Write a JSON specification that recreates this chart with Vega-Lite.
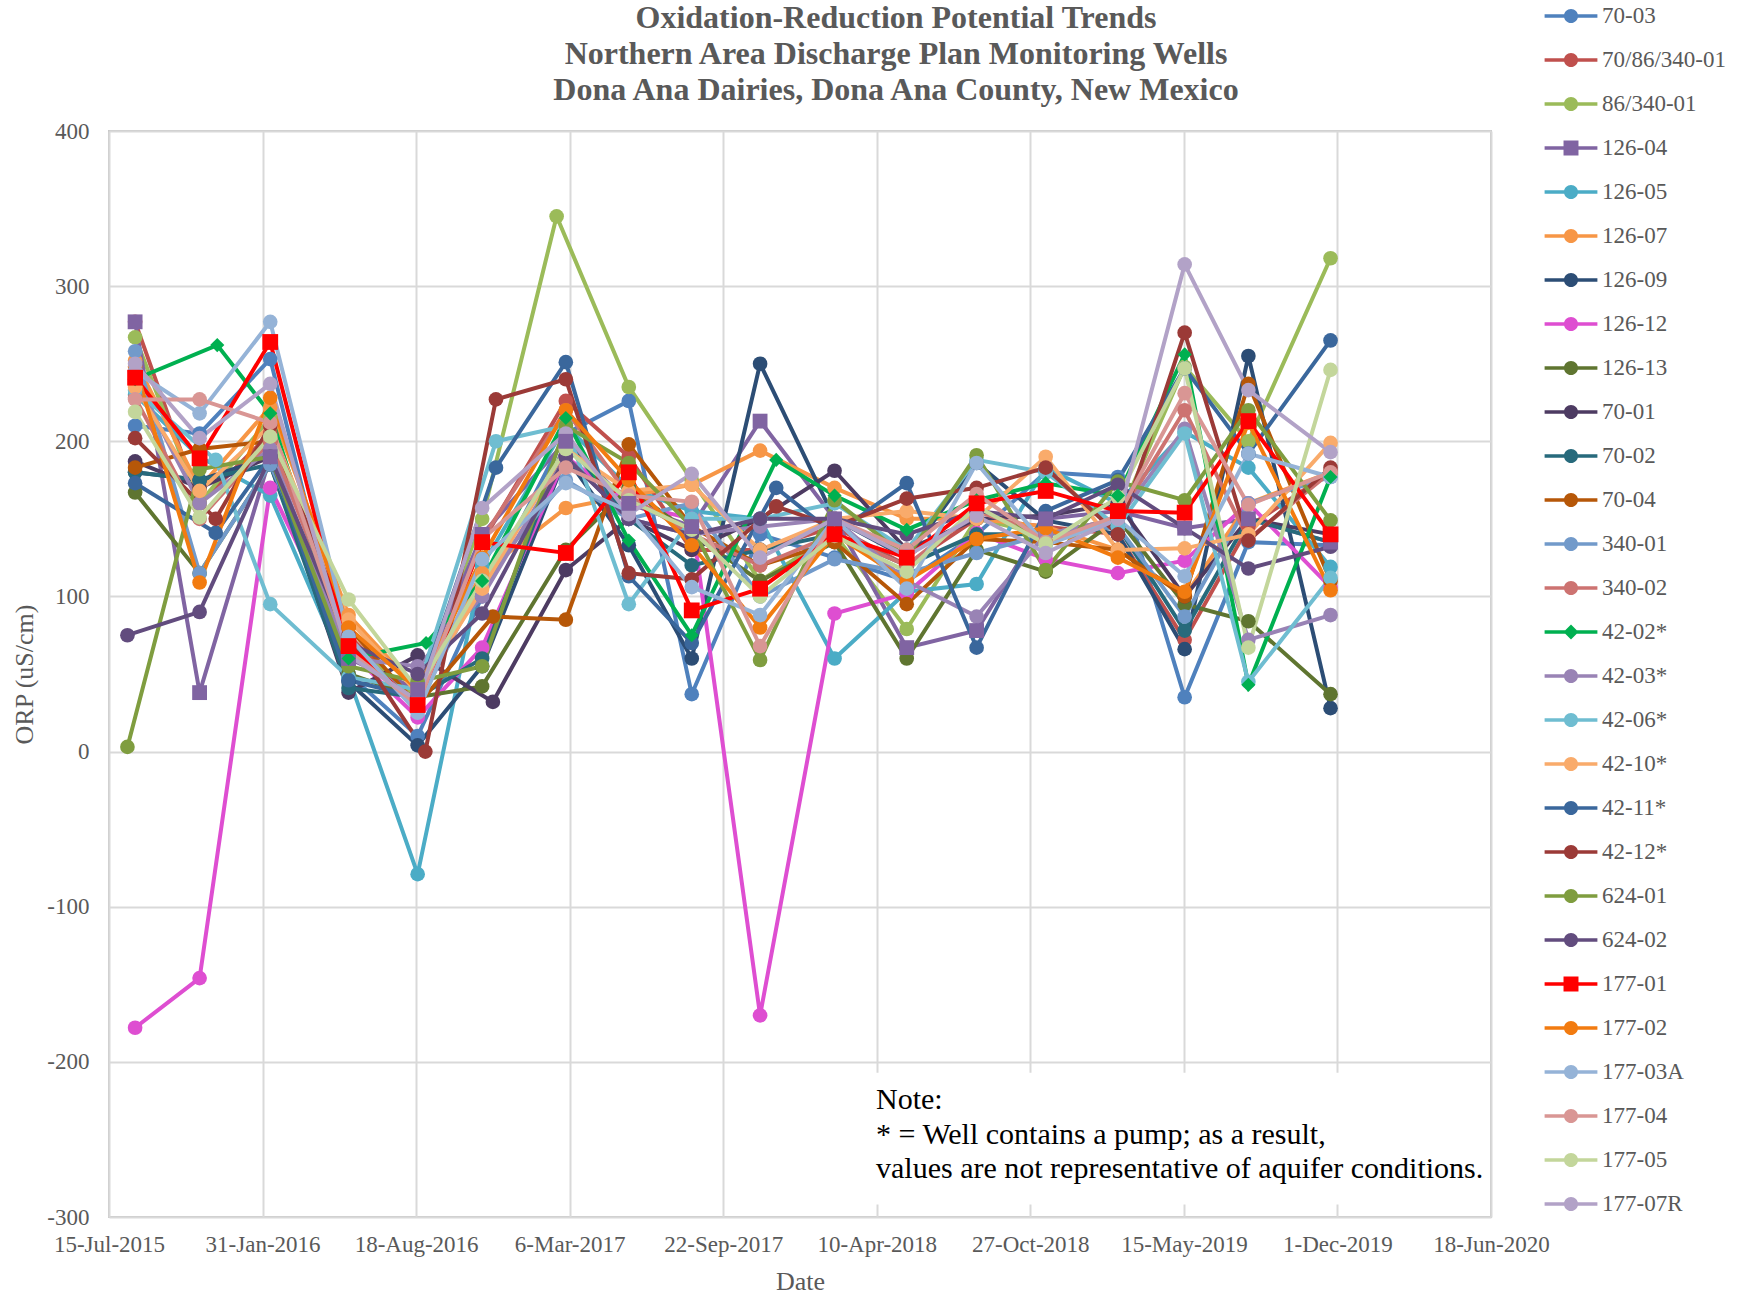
{
"$schema": "https://vega.github.io/schema/vega-lite/v6.json",
"width": 1382, "height": 1086,
"autosize": {"type": "none"},
"padding": {"left": 109, "top": 131, "right": 256, "bottom": 80},
"background": "white",
"config": {
 "font": "Liberation Serif",
 "view": {"stroke": "#C8C8C8", "strokeWidth": 2},
 "axis": {"labelFont": "Liberation Serif", "labelFontSize": 23, "labelColor": "#595959", "titleFont": "Liberation Serif", "titleFontSize": 26, "titleColor": "#595959", "titleFontWeight": "normal", "gridColor": "#D9D9D9", "gridWidth": 2, "domain": false, "ticks": false, "tickSize": 0}
},
"title": {"text": ["Oxidation-Reduction Potential Trends", "Northern Area Discharge Plan Monitoring Wells", "Dona Ana Dairies, Dona Ana County, New Mexico"], "font": "Liberation Serif", "fontSize": 32, "fontWeight": "bold", "color": "#595959", "lineHeight": 36, "anchor": "middle", "frame": "group", "dx": 96, "offset": -113},
"datasets": {"orp": [
{"s":"70-03","d":"2015-08-18","v":210},{"s":"70-03","d":"2015-11-10","v":205},{"s":"70-03","d":"2016-02-10","v":253},{"s":"70-03","d":"2016-05-22","v":50},{"s":"70-03","d":"2016-08-20","v":10},{"s":"70-03","d":"2016-11-12","v":100},{"s":"70-03","d":"2017-03-01","v":205},{"s":"70-03","d":"2017-05-22","v":226},{"s":"70-03","d":"2017-08-12","v":37},{"s":"70-03","d":"2017-11-09","v":140},{"s":"70-03","d":"2018-02-14","v":125},{"s":"70-03","d":"2018-05-19","v":110},{"s":"70-03","d":"2018-08-18","v":140},{"s":"70-03","d":"2018-11-16","v":180},{"s":"70-03","d":"2019-02-18","v":177},{"s":"70-03","d":"2019-05-16","v":35},{"s":"70-03","d":"2019-08-07","v":135},{"s":"70-03","d":"2019-11-22","v":133},
{"s":"70/86/340-01","d":"2015-08-18","v":277},{"s":"70/86/340-01","d":"2015-11-10","v":160},{"s":"70/86/340-01","d":"2016-02-10","v":205},{"s":"70/86/340-01","d":"2016-05-22","v":75},{"s":"70/86/340-01","d":"2016-08-20","v":30},{"s":"70/86/340-01","d":"2016-11-12","v":135},{"s":"70/86/340-01","d":"2017-03-01","v":226},{"s":"70/86/340-01","d":"2017-05-22","v":190},{"s":"70/86/340-01","d":"2017-08-12","v":130},{"s":"70/86/340-01","d":"2017-11-09","v":130},{"s":"70/86/340-01","d":"2018-02-14","v":145},{"s":"70/86/340-01","d":"2018-05-19","v":120},{"s":"70/86/340-01","d":"2018-08-18","v":150},{"s":"70/86/340-01","d":"2018-11-16","v":145},{"s":"70/86/340-01","d":"2019-02-18","v":140},{"s":"70/86/340-01","d":"2019-05-16","v":72},{"s":"70/86/340-01","d":"2019-08-07","v":145},{"s":"70/86/340-01","d":"2019-11-22","v":180},
{"s":"86/340-01","d":"2015-08-18","v":267},{"s":"86/340-01","d":"2015-11-10","v":160},{"s":"86/340-01","d":"2016-02-10","v":215},{"s":"86/340-01","d":"2016-05-22","v":70},{"s":"86/340-01","d":"2016-08-20","v":35},{"s":"86/340-01","d":"2016-11-12","v":150},{"s":"86/340-01","d":"2017-02-17","v":345},{"s":"86/340-01","d":"2017-05-22","v":235},{"s":"86/340-01","d":"2017-08-12","v":175},{"s":"86/340-01","d":"2017-11-09","v":110},{"s":"86/340-01","d":"2018-02-14","v":140},{"s":"86/340-01","d":"2018-05-19","v":79},{"s":"86/340-01","d":"2018-08-18","v":150},{"s":"86/340-01","d":"2018-11-16","v":140},{"s":"86/340-01","d":"2019-02-18","v":150},{"s":"86/340-01","d":"2019-05-16","v":248},{"s":"86/340-01","d":"2019-08-07","v":200},{"s":"86/340-01","d":"2019-11-22","v":318},
{"s":"126-04","d":"2015-08-18","v":277},{"s":"126-04","d":"2015-11-10","v":38},{"s":"126-04","d":"2016-02-10","v":190},{"s":"126-04","d":"2016-05-22","v":60},{"s":"126-04","d":"2016-08-20","v":40},{"s":"126-04","d":"2016-11-12","v":140},{"s":"126-04","d":"2017-03-01","v":200},{"s":"126-04","d":"2017-05-22","v":160},{"s":"126-04","d":"2017-08-12","v":145},{"s":"126-04","d":"2017-11-09","v":213},{"s":"126-04","d":"2018-02-14","v":150},{"s":"126-04","d":"2018-05-19","v":67},{"s":"126-04","d":"2018-08-18","v":78},{"s":"126-04","d":"2018-11-16","v":150},{"s":"126-04","d":"2019-02-18","v":155},{"s":"126-04","d":"2019-05-16","v":144},{"s":"126-04","d":"2019-08-07","v":150},{"s":"126-04","d":"2019-11-22","v":135},
{"s":"126-05","d":"2015-08-18","v":230},{"s":"126-05","d":"2015-11-10","v":190},{"s":"126-05","d":"2016-02-10","v":165},{"s":"126-05","d":"2016-05-22","v":48},{"s":"126-05","d":"2016-08-20","v":-79},{"s":"126-05","d":"2016-11-12","v":120},{"s":"126-05","d":"2017-03-01","v":210},{"s":"126-05","d":"2017-05-22","v":170},{"s":"126-05","d":"2017-08-12","v":155},{"s":"126-05","d":"2017-11-09","v":150},{"s":"126-05","d":"2018-02-14","v":60},{"s":"126-05","d":"2018-05-19","v":103},{"s":"126-05","d":"2018-08-18","v":108},{"s":"126-05","d":"2018-11-16","v":183},{"s":"126-05","d":"2019-02-18","v":160},{"s":"126-05","d":"2019-05-16","v":206},{"s":"126-05","d":"2019-08-07","v":183},{"s":"126-05","d":"2019-11-22","v":119},
{"s":"126-07","d":"2015-08-18","v":252},{"s":"126-07","d":"2015-11-10","v":170},{"s":"126-07","d":"2016-02-10","v":222},{"s":"126-07","d":"2016-05-22","v":88},{"s":"126-07","d":"2016-08-20","v":40},{"s":"126-07","d":"2016-11-12","v":115},{"s":"126-07","d":"2017-03-01","v":157},{"s":"126-07","d":"2017-05-22","v":165},{"s":"126-07","d":"2017-08-12","v":172},{"s":"126-07","d":"2017-11-09","v":194},{"s":"126-07","d":"2018-02-14","v":170},{"s":"126-07","d":"2018-05-19","v":150},{"s":"126-07","d":"2018-08-18","v":150},{"s":"126-07","d":"2018-11-16","v":145},{"s":"126-07","d":"2019-02-18","v":130},{"s":"126-07","d":"2019-05-16","v":100},{"s":"126-07","d":"2019-08-07","v":160},{"s":"126-07","d":"2019-11-22","v":180},
{"s":"126-09","d":"2015-08-18","v":180},{"s":"126-09","d":"2015-11-10","v":175},{"s":"126-09","d":"2016-02-10","v":190},{"s":"126-09","d":"2016-05-22","v":45},{"s":"126-09","d":"2016-08-20","v":4},{"s":"126-09","d":"2016-11-12","v":55},{"s":"126-09","d":"2017-03-01","v":190},{"s":"126-09","d":"2017-05-22","v":133},{"s":"126-09","d":"2017-08-12","v":60},{"s":"126-09","d":"2017-11-09","v":250},{"s":"126-09","d":"2018-02-14","v":150},{"s":"126-09","d":"2018-05-19","v":125},{"s":"126-09","d":"2018-08-18","v":186},{"s":"126-09","d":"2018-11-16","v":149},{"s":"126-09","d":"2019-02-18","v":140},{"s":"126-09","d":"2019-05-16","v":66},{"s":"126-09","d":"2019-08-07","v":255},{"s":"126-09","d":"2019-11-22","v":28},
{"s":"126-12","d":"2015-08-18","v":-178},{"s":"126-12","d":"2015-11-10","v":-146},{"s":"126-12","d":"2016-02-10","v":170},{"s":"126-12","d":"2016-05-22","v":65},{"s":"126-12","d":"2016-08-20","v":22},{"s":"126-12","d":"2016-11-12","v":67},{"s":"126-12","d":"2017-03-01","v":190},{"s":"126-12","d":"2017-05-22","v":160},{"s":"126-12","d":"2017-08-12","v":150},{"s":"126-12","d":"2017-11-09","v":-170},{"s":"126-12","d":"2018-02-14","v":89},{"s":"126-12","d":"2018-05-19","v":102},{"s":"126-12","d":"2018-08-18","v":141},{"s":"126-12","d":"2018-11-16","v":124},{"s":"126-12","d":"2019-02-18","v":115},{"s":"126-12","d":"2019-05-16","v":123},{"s":"126-12","d":"2019-08-07","v":160},{"s":"126-12","d":"2019-11-22","v":106},
{"s":"126-13","d":"2015-08-18","v":167},{"s":"126-13","d":"2015-11-10","v":115},{"s":"126-13","d":"2016-02-10","v":185},{"s":"126-13","d":"2016-05-22","v":50},{"s":"126-13","d":"2016-08-20","v":35},{"s":"126-13","d":"2016-11-12","v":42},{"s":"126-13","d":"2017-03-01","v":130},{"s":"126-13","d":"2017-05-22","v":170},{"s":"126-13","d":"2017-08-12","v":140},{"s":"126-13","d":"2017-11-09","v":110},{"s":"126-13","d":"2018-02-14","v":135},{"s":"126-13","d":"2018-05-19","v":60},{"s":"126-13","d":"2018-08-18","v":130},{"s":"126-13","d":"2018-11-16","v":116},{"s":"126-13","d":"2019-02-18","v":150},{"s":"126-13","d":"2019-05-16","v":95},{"s":"126-13","d":"2019-08-07","v":84},{"s":"126-13","d":"2019-11-22","v":37},
{"s":"70-01","d":"2015-08-18","v":187},{"s":"70-01","d":"2015-11-10","v":170},{"s":"70-01","d":"2016-02-10","v":190},{"s":"70-01","d":"2016-05-22","v":38},{"s":"70-01","d":"2016-08-20","v":62},{"s":"70-01","d":"2016-11-26","v":32},{"s":"70-01","d":"2017-03-01","v":117},{"s":"70-01","d":"2017-05-22","v":150},{"s":"70-01","d":"2017-08-12","v":130},{"s":"70-01","d":"2017-11-09","v":150},{"s":"70-01","d":"2018-02-14","v":181},{"s":"70-01","d":"2018-05-19","v":130},{"s":"70-01","d":"2018-08-18","v":150},{"s":"70-01","d":"2018-11-16","v":152},{"s":"70-01","d":"2019-02-18","v":160},{"s":"70-01","d":"2019-05-16","v":100},{"s":"70-01","d":"2019-08-07","v":150},{"s":"70-01","d":"2019-11-22","v":140},
{"s":"70-02","d":"2015-08-18","v":180},{"s":"70-02","d":"2015-11-10","v":175},{"s":"70-02","d":"2016-02-10","v":185},{"s":"70-02","d":"2016-05-22","v":41},{"s":"70-02","d":"2016-08-20","v":35},{"s":"70-02","d":"2016-11-12","v":60},{"s":"70-02","d":"2017-03-01","v":200},{"s":"70-02","d":"2017-05-22","v":150},{"s":"70-02","d":"2017-08-12","v":120},{"s":"70-02","d":"2017-11-09","v":130},{"s":"70-02","d":"2018-02-14","v":140},{"s":"70-02","d":"2018-05-19","v":120},{"s":"70-02","d":"2018-08-18","v":140},{"s":"70-02","d":"2018-11-16","v":140},{"s":"70-02","d":"2019-02-18","v":145},{"s":"70-02","d":"2019-05-16","v":78},{"s":"70-02","d":"2019-08-07","v":150},{"s":"70-02","d":"2019-11-22","v":135},
{"s":"70-04","d":"2015-08-18","v":183},{"s":"70-04","d":"2015-11-10","v":195},{"s":"70-04","d":"2016-02-10","v":200},{"s":"70-04","d":"2016-05-22","v":80},{"s":"70-04","d":"2016-08-20","v":30},{"s":"70-04","d":"2016-11-26","v":87},{"s":"70-04","d":"2017-03-01","v":85},{"s":"70-04","d":"2017-05-22","v":198},{"s":"70-04","d":"2017-08-12","v":145},{"s":"70-04","d":"2017-11-09","v":120},{"s":"70-04","d":"2018-02-14","v":135},{"s":"70-04","d":"2018-05-19","v":95},{"s":"70-04","d":"2018-08-18","v":137},{"s":"70-04","d":"2018-11-16","v":135},{"s":"70-04","d":"2019-02-18","v":130},{"s":"70-04","d":"2019-05-16","v":100},{"s":"70-04","d":"2019-08-07","v":237},{"s":"70-04","d":"2019-11-22","v":110},
{"s":"340-01","d":"2015-08-18","v":258},{"s":"340-01","d":"2015-11-10","v":115},{"s":"340-01","d":"2016-02-10","v":185},{"s":"340-01","d":"2016-05-22","v":70},{"s":"340-01","d":"2016-08-20","v":30},{"s":"340-01","d":"2016-11-12","v":110},{"s":"340-01","d":"2017-03-01","v":175},{"s":"340-01","d":"2017-05-22","v":150},{"s":"340-01","d":"2017-08-12","v":160},{"s":"340-01","d":"2017-11-09","v":100},{"s":"340-01","d":"2018-02-14","v":124},{"s":"340-01","d":"2018-05-19","v":115},{"s":"340-01","d":"2018-08-18","v":128},{"s":"340-01","d":"2018-11-16","v":140},{"s":"340-01","d":"2019-02-18","v":145},{"s":"340-01","d":"2019-05-16","v":87},{"s":"340-01","d":"2019-08-07","v":160},{"s":"340-01","d":"2019-11-22","v":177},
{"s":"340-02","d":"2015-08-18","v":228},{"s":"340-02","d":"2015-11-10","v":150},{"s":"340-02","d":"2016-02-10","v":200},{"s":"340-02","d":"2016-05-22","v":72},{"s":"340-02","d":"2016-08-20","v":28},{"s":"340-02","d":"2016-11-12","v":137},{"s":"340-02","d":"2017-03-01","v":220},{"s":"340-02","d":"2017-05-22","v":165},{"s":"340-02","d":"2017-08-12","v":140},{"s":"340-02","d":"2017-11-09","v":120},{"s":"340-02","d":"2018-02-14","v":140},{"s":"340-02","d":"2018-05-19","v":120},{"s":"340-02","d":"2018-08-18","v":155},{"s":"340-02","d":"2018-11-16","v":140},{"s":"340-02","d":"2019-02-18","v":150},{"s":"340-02","d":"2019-05-16","v":220},{"s":"340-02","d":"2019-08-07","v":137},{"s":"340-02","d":"2019-11-22","v":180},
{"s":"42-02*","d":"2015-08-18","v":240},{"s":"42-02*","d":"2015-12-03","v":262},{"s":"42-02*","d":"2016-02-10","v":218},{"s":"42-02*","d":"2016-05-22","v":60},{"s":"42-02*","d":"2016-08-31","v":70},{"s":"42-02*","d":"2016-11-12","v":110},{"s":"42-02*","d":"2017-03-01","v":215},{"s":"42-02*","d":"2017-05-22","v":136},{"s":"42-02*","d":"2017-08-12","v":75},{"s":"42-02*","d":"2017-11-30","v":188},{"s":"42-02*","d":"2018-02-14","v":165},{"s":"42-02*","d":"2018-05-19","v":143},{"s":"42-02*","d":"2018-08-18","v":162},{"s":"42-02*","d":"2018-11-16","v":173},{"s":"42-02*","d":"2019-02-18","v":165},{"s":"42-02*","d":"2019-05-16","v":256},{"s":"42-02*","d":"2019-08-07","v":43},{"s":"42-02*","d":"2019-11-22","v":177},
{"s":"42-03*","d":"2015-08-18","v":240},{"s":"42-03*","d":"2015-11-10","v":160},{"s":"42-03*","d":"2016-02-10","v":195},{"s":"42-03*","d":"2016-05-22","v":60},{"s":"42-03*","d":"2016-08-20","v":55},{"s":"42-03*","d":"2016-11-12","v":100},{"s":"42-03*","d":"2017-03-01","v":190},{"s":"42-03*","d":"2017-05-22","v":150},{"s":"42-03*","d":"2017-08-12","v":140},{"s":"42-03*","d":"2017-11-09","v":145},{"s":"42-03*","d":"2018-02-14","v":150},{"s":"42-03*","d":"2018-05-19","v":110},{"s":"42-03*","d":"2018-08-18","v":87},{"s":"42-03*","d":"2018-11-16","v":140},{"s":"42-03*","d":"2019-02-18","v":150},{"s":"42-03*","d":"2019-05-16","v":208},{"s":"42-03*","d":"2019-08-07","v":72},{"s":"42-03*","d":"2019-11-22","v":88},
{"s":"42-06*","d":"2015-08-18","v":233},{"s":"42-06*","d":"2015-12-01","v":188},{"s":"42-06*","d":"2016-02-10","v":95},{"s":"42-06*","d":"2016-05-22","v":48},{"s":"42-06*","d":"2016-08-20","v":40},{"s":"42-06*","d":"2016-11-30","v":200},{"s":"42-06*","d":"2017-03-01","v":210},{"s":"42-06*","d":"2017-05-22","v":95},{"s":"42-06*","d":"2017-08-12","v":150},{"s":"42-06*","d":"2017-11-09","v":150},{"s":"42-06*","d":"2018-02-14","v":160},{"s":"42-06*","d":"2018-05-19","v":130},{"s":"42-06*","d":"2018-08-18","v":188},{"s":"42-06*","d":"2018-11-16","v":180},{"s":"42-06*","d":"2019-02-18","v":145},{"s":"42-06*","d":"2019-05-16","v":205},{"s":"42-06*","d":"2019-08-07","v":45},{"s":"42-06*","d":"2019-11-22","v":112},
{"s":"42-10*","d":"2015-08-18","v":235},{"s":"42-10*","d":"2015-11-10","v":168},{"s":"42-10*","d":"2016-02-10","v":210},{"s":"42-10*","d":"2016-05-22","v":85},{"s":"42-10*","d":"2016-08-20","v":38},{"s":"42-10*","d":"2016-11-12","v":105},{"s":"42-10*","d":"2017-03-01","v":195},{"s":"42-10*","d":"2017-05-22","v":168},{"s":"42-10*","d":"2017-08-12","v":172},{"s":"42-10*","d":"2017-11-09","v":130},{"s":"42-10*","d":"2018-02-14","v":150},{"s":"42-10*","d":"2018-05-19","v":155},{"s":"42-10*","d":"2018-08-18","v":150},{"s":"42-10*","d":"2018-11-16","v":190},{"s":"42-10*","d":"2019-02-18","v":130},{"s":"42-10*","d":"2019-05-16","v":131},{"s":"42-10*","d":"2019-08-07","v":140},{"s":"42-10*","d":"2019-11-22","v":199},
{"s":"42-11*","d":"2015-08-18","v":173},{"s":"42-11*","d":"2015-12-01","v":141},{"s":"42-11*","d":"2016-02-10","v":190},{"s":"42-11*","d":"2016-05-22","v":46},{"s":"42-11*","d":"2016-08-20","v":35},{"s":"42-11*","d":"2016-11-30","v":183},{"s":"42-11*","d":"2017-03-01","v":251},{"s":"42-11*","d":"2017-05-22","v":113},{"s":"42-11*","d":"2017-08-12","v":70},{"s":"42-11*","d":"2017-11-30","v":170},{"s":"42-11*","d":"2018-02-14","v":140},{"s":"42-11*","d":"2018-05-19","v":173},{"s":"42-11*","d":"2018-08-18","v":67},{"s":"42-11*","d":"2018-11-16","v":155},{"s":"42-11*","d":"2019-02-18","v":175},{"s":"42-11*","d":"2019-05-16","v":247},{"s":"42-11*","d":"2019-08-07","v":192},{"s":"42-11*","d":"2019-11-22","v":265},
{"s":"42-12*","d":"2015-08-18","v":202},{"s":"42-12*","d":"2015-12-01","v":150},{"s":"42-12*","d":"2016-02-10","v":210},{"s":"42-12*","d":"2016-05-22","v":75},{"s":"42-12*","d":"2016-08-30","v":0},{"s":"42-12*","d":"2016-11-30","v":227},{"s":"42-12*","d":"2017-03-01","v":240},{"s":"42-12*","d":"2017-05-22","v":115},{"s":"42-12*","d":"2017-08-12","v":111},{"s":"42-12*","d":"2017-11-30","v":158},{"s":"42-12*","d":"2018-02-14","v":145},{"s":"42-12*","d":"2018-05-19","v":163},{"s":"42-12*","d":"2018-08-18","v":170},{"s":"42-12*","d":"2018-11-16","v":183},{"s":"42-12*","d":"2019-02-18","v":140},{"s":"42-12*","d":"2019-05-16","v":270},{"s":"42-12*","d":"2019-08-07","v":136},{"s":"42-12*","d":"2019-11-22","v":183},
{"s":"624-01","d":"2015-08-08","v":3},{"s":"624-01","d":"2015-11-10","v":182},{"s":"624-01","d":"2016-02-10","v":190},{"s":"624-01","d":"2016-05-22","v":55},{"s":"624-01","d":"2016-08-20","v":45},{"s":"624-01","d":"2016-11-12","v":55},{"s":"624-01","d":"2017-03-01","v":210},{"s":"624-01","d":"2017-05-22","v":186},{"s":"624-01","d":"2017-08-12","v":145},{"s":"624-01","d":"2017-11-09","v":59},{"s":"624-01","d":"2018-02-14","v":162},{"s":"624-01","d":"2018-05-19","v":125},{"s":"624-01","d":"2018-08-18","v":191},{"s":"624-01","d":"2018-11-16","v":117},{"s":"624-01","d":"2019-02-18","v":174},{"s":"624-01","d":"2019-05-16","v":162},{"s":"624-01","d":"2019-08-07","v":220},{"s":"624-01","d":"2019-11-22","v":149},
{"s":"624-02","d":"2015-08-08","v":75},{"s":"624-02","d":"2015-11-10","v":90},{"s":"624-02","d":"2016-02-10","v":190},{"s":"624-02","d":"2016-05-22","v":70},{"s":"624-02","d":"2016-08-20","v":50},{"s":"624-02","d":"2016-11-12","v":89},{"s":"624-02","d":"2017-03-01","v":190},{"s":"624-02","d":"2017-05-22","v":150},{"s":"624-02","d":"2017-08-12","v":140},{"s":"624-02","d":"2017-11-09","v":150},{"s":"624-02","d":"2018-02-14","v":150},{"s":"624-02","d":"2018-05-19","v":140},{"s":"624-02","d":"2018-08-18","v":155},{"s":"624-02","d":"2018-11-16","v":150},{"s":"624-02","d":"2019-02-18","v":172},{"s":"624-02","d":"2019-05-16","v":144},{"s":"624-02","d":"2019-08-07","v":118},{"s":"624-02","d":"2019-11-22","v":132},
{"s":"177-01","d":"2015-08-18","v":241},{"s":"177-01","d":"2015-11-10","v":189},{"s":"177-01","d":"2016-02-10","v":264},{"s":"177-01","d":"2016-05-22","v":68},{"s":"177-01","d":"2016-08-20","v":30},{"s":"177-01","d":"2016-11-12","v":135},{"s":"177-01","d":"2017-03-01","v":128},{"s":"177-01","d":"2017-05-22","v":180},{"s":"177-01","d":"2017-08-12","v":91},{"s":"177-01","d":"2017-11-09","v":105},{"s":"177-01","d":"2018-02-14","v":140},{"s":"177-01","d":"2018-05-19","v":125},{"s":"177-01","d":"2018-08-18","v":160},{"s":"177-01","d":"2018-11-16","v":168},{"s":"177-01","d":"2019-02-18","v":155},{"s":"177-01","d":"2019-05-16","v":154},{"s":"177-01","d":"2019-08-07","v":213},{"s":"177-01","d":"2019-11-22","v":140},
{"s":"177-02","d":"2015-08-18","v":248},{"s":"177-02","d":"2015-11-10","v":109},{"s":"177-02","d":"2016-02-10","v":228},{"s":"177-02","d":"2016-05-22","v":80},{"s":"177-02","d":"2016-08-20","v":40},{"s":"177-02","d":"2016-11-12","v":125},{"s":"177-02","d":"2017-03-01","v":220},{"s":"177-02","d":"2017-05-22","v":175},{"s":"177-02","d":"2017-08-12","v":133},{"s":"177-02","d":"2017-11-09","v":80},{"s":"177-02","d":"2018-02-14","v":140},{"s":"177-02","d":"2018-05-19","v":110},{"s":"177-02","d":"2018-08-18","v":137},{"s":"177-02","d":"2018-11-16","v":144},{"s":"177-02","d":"2019-02-18","v":125},{"s":"177-02","d":"2019-05-16","v":103},{"s":"177-02","d":"2019-08-07","v":212},{"s":"177-02","d":"2019-11-22","v":104},
{"s":"177-03A","d":"2015-08-18","v":245},{"s":"177-03A","d":"2015-11-10","v":218},{"s":"177-03A","d":"2016-02-10","v":277},{"s":"177-03A","d":"2016-05-22","v":74},{"s":"177-03A","d":"2016-08-20","v":25},{"s":"177-03A","d":"2016-11-12","v":124},{"s":"177-03A","d":"2017-03-01","v":173},{"s":"177-03A","d":"2017-05-22","v":155},{"s":"177-03A","d":"2017-08-12","v":106},{"s":"177-03A","d":"2017-11-09","v":88},{"s":"177-03A","d":"2018-02-14","v":150},{"s":"177-03A","d":"2018-05-19","v":105},{"s":"177-03A","d":"2018-08-18","v":186},{"s":"177-03A","d":"2018-11-16","v":133},{"s":"177-03A","d":"2019-02-18","v":150},{"s":"177-03A","d":"2019-05-16","v":113},{"s":"177-03A","d":"2019-08-07","v":192},{"s":"177-03A","d":"2019-11-22","v":177},
{"s":"177-04","d":"2015-08-18","v":227},{"s":"177-04","d":"2015-11-10","v":227},{"s":"177-04","d":"2016-02-10","v":212},{"s":"177-04","d":"2016-05-22","v":65},{"s":"177-04","d":"2016-08-20","v":30},{"s":"177-04","d":"2016-11-12","v":137},{"s":"177-04","d":"2017-03-01","v":183},{"s":"177-04","d":"2017-05-22","v":165},{"s":"177-04","d":"2017-08-12","v":161},{"s":"177-04","d":"2017-11-09","v":68},{"s":"177-04","d":"2018-02-14","v":150},{"s":"177-04","d":"2018-05-19","v":130},{"s":"177-04","d":"2018-08-18","v":166},{"s":"177-04","d":"2018-11-16","v":135},{"s":"177-04","d":"2019-02-18","v":152},{"s":"177-04","d":"2019-05-16","v":231},{"s":"177-04","d":"2019-08-07","v":159},{"s":"177-04","d":"2019-11-22","v":180},
{"s":"177-05","d":"2015-08-18","v":219},{"s":"177-05","d":"2015-11-10","v":151},{"s":"177-05","d":"2016-02-10","v":203},{"s":"177-05","d":"2016-05-22","v":98},{"s":"177-05","d":"2016-08-20","v":40},{"s":"177-05","d":"2016-11-12","v":110},{"s":"177-05","d":"2017-03-01","v":195},{"s":"177-05","d":"2017-05-22","v":162},{"s":"177-05","d":"2017-08-12","v":143},{"s":"177-05","d":"2017-11-09","v":100},{"s":"177-05","d":"2018-02-14","v":139},{"s":"177-05","d":"2018-05-19","v":116},{"s":"177-05","d":"2018-08-18","v":158},{"s":"177-05","d":"2018-11-16","v":134},{"s":"177-05","d":"2019-02-18","v":164},{"s":"177-05","d":"2019-05-16","v":247},{"s":"177-05","d":"2019-08-07","v":67},{"s":"177-05","d":"2019-11-22","v":246},
{"s":"177-07R","d":"2015-08-18","v":250},{"s":"177-07R","d":"2015-11-10","v":202},{"s":"177-07R","d":"2016-02-10","v":237},{"s":"177-07R","d":"2016-05-22","v":62},{"s":"177-07R","d":"2016-08-20","v":33},{"s":"177-07R","d":"2016-11-12","v":157},{"s":"177-07R","d":"2017-03-01","v":205},{"s":"177-07R","d":"2017-05-22","v":153},{"s":"177-07R","d":"2017-08-12","v":179},{"s":"177-07R","d":"2017-11-09","v":125},{"s":"177-07R","d":"2018-02-14","v":150},{"s":"177-07R","d":"2018-05-19","v":126},{"s":"177-07R","d":"2018-08-18","v":152},{"s":"177-07R","d":"2018-11-16","v":128},{"s":"177-07R","d":"2019-02-18","v":150},{"s":"177-07R","d":"2019-05-16","v":314},{"s":"177-07R","d":"2019-08-07","v":233},{"s":"177-07R","d":"2019-11-22","v":193}
]},
"layer": [
 {"data": {"values": [{}]},
  "mark": {"type": "rect", "fill": "white"},
  "encoding": {
   "x": {"datum": {"year": 2018, "month": 3, "date": 31, "utc": true}, "type": "temporal"},
   "x2": {"datum": {"year": 2020, "month": 6, "date": 10, "utc": true}},
   "y": {"datum": -207, "type": "quantitative"},
   "y2": {"datum": -292}
  }},
 {"data": {"name": "orp"},
  "mark": {"type": "line", "strokeWidth": 4},
  "encoding": {
   "x": {"field": "d", "type": "temporal",
    "scale": {"type": "utc", "domain": [{"year": 2015, "month": 7, "date": 15, "utc": true}, {"year": 2020, "month": 6, "date": 18, "utc": true}], "nice": false},
    "axis": {"title": "Date", "values": [{"year": 2015, "month": 7, "date": 15, "utc": true}, {"year": 2016, "month": 1, "date": 31, "utc": true}, {"year": 2016, "month": 8, "date": 18, "utc": true}, {"year": 2017, "month": 3, "date": 6, "utc": true}, {"year": 2017, "month": 9, "date": 22, "utc": true}, {"year": 2018, "month": 4, "date": 10, "utc": true}, {"year": 2018, "month": 10, "date": 27, "utc": true}, {"year": 2019, "month": 5, "date": 15, "utc": true}, {"year": 2019, "month": 12, "date": 1, "utc": true}, {"year": 2020, "month": 6, "date": 18, "utc": true}],
     "labelExpr": "utcFormat(datum.value, '%-d-%b-%Y')", "labelPadding": 16, "titlePadding": 12, "labelFlush": false, "labelOverlap": false, "labelBound": false, "grid": true}},
   "y": {"field": "v", "type": "quantitative",
    "scale": {"domain": [-300, 400], "nice": false},
    "axis": {"title": "ORP (uS/cm)", "values": [-300, -200, -100, 0, 100, 200, 300, 400], "labelExpr": "datum.value < 0 ? '-' + abs(datum.value) : '' + datum.value", "labelPadding": 20, "titlePadding": 9, "grid": true}},
   "color": {"field": "s", "type": "nominal",
    "scale": {"domain": ["70-03","70/86/340-01","86/340-01","126-04","126-05","126-07","126-09","126-12","126-13","70-01","70-02","70-04","340-01","340-02","42-02*","42-03*","42-06*","42-10*","42-11*","42-12*","624-01","624-02","177-01","177-02","177-03A","177-04","177-05","177-07R"],
     "range": ["#4F81BD","#C0504D","#9BBB59","#8064A2","#4BACC6","#F79646","#2C4D75","#DE4ED1","#5F7530","#4D3B62","#276A7C","#B65708","#729ACA","#CD7371","#00B050","#9983B5","#6FBDD1","#F9AB6B","#3A679C","#9B3A37","#7F9D3F","#624C7E","#FF0000","#F27B10","#95B3D7","#D99694","#C3D69B","#B2A2C7"]},
    "legend": {"orient": "none", "legendX": 1440, "legendY": -137, "title": null, "padding": 0, "rowPadding": 10, "symbolSize": 1936, "symbolStrokeWidth": 0, "symbolType": {"expr": "(datum.value === '126-04' || datum.value === '177-01') ? 'M-1.2,-0.085H1.2V0.085H-1.2Z M-0.34,-0.34H0.34V0.34H-0.34Z' : datum.value === '42-02*' ? 'M-1.2,-0.085H1.2V0.085H-1.2Z M0,-0.34L0.34,0L0,0.34L-0.34,0Z' : 'M-1.2,-0.085H1.2V0.085H-1.2Z M-0.32,0A0.32,0.32 0 1,1 0.32,0A0.32,0.32 0 1,1 -0.32,0Z'"}, "symbolOpacity": 1, "labelFont": "Liberation Serif", "labelFontSize": 23, "labelColor": "#595959", "labelOffset": 9, "labelLimit": 300, "symbolLimit": 50}}
  }},
 {"data": {"name": "orp"},
  "transform": [{"filter": "datum.s !== '126-04' && datum.s !== '177-01' && datum.s !== '42-02*'"}],
  "mark": {"type": "point", "filled": true, "size": 215, "opacity": 1},
  "encoding": {
   "x": {"field": "d", "type": "temporal"},
   "y": {"field": "v", "type": "quantitative"},
   "color": {"field": "s", "type": "nominal",
    "legend": {"orient": "none", "legendX": 1440, "legendY": -137, "title": null, "padding": 0, "rowPadding": 10, "symbolSize": 1936, "symbolStrokeWidth": 0, "symbolType": {"expr": "(datum.value === '126-04' || datum.value === '177-01') ? 'M-1.2,-0.085H1.2V0.085H-1.2Z M-0.34,-0.34H0.34V0.34H-0.34Z' : datum.value === '42-02*' ? 'M-1.2,-0.085H1.2V0.085H-1.2Z M0,-0.34L0.34,0L0,0.34L-0.34,0Z' : 'M-1.2,-0.085H1.2V0.085H-1.2Z M-0.32,0A0.32,0.32 0 1,1 0.32,0A0.32,0.32 0 1,1 -0.32,0Z'"}, "symbolOpacity": 1, "labelFont": "Liberation Serif", "labelFontSize": 23, "labelColor": "#595959", "labelOffset": 9, "labelLimit": 300, "symbolLimit": 50}}
  }},
 {"data": {"name": "orp"},
  "transform": [{"filter": "datum.s === '126-04'"}],
  "mark": {"type": "point", "shape": "square", "filled": true, "size": 220, "opacity": 1, "color": "#8064A2"},
  "encoding": {"x": {"field": "d", "type": "temporal"}, "y": {"field": "v", "type": "quantitative"}}},
 {"data": {"name": "orp"},
  "transform": [{"filter": "datum.s === '42-02*'"}],
  "mark": {"type": "point", "shape": "diamond", "filled": true, "size": 200, "opacity": 1, "color": "#00B050"},
  "encoding": {"x": {"field": "d", "type": "temporal"}, "y": {"field": "v", "type": "quantitative"}}},
 {"data": {"name": "orp"},
  "transform": [{"filter": "datum.s === '177-01'"}],
  "mark": {"type": "point", "shape": "square", "filled": true, "size": 250, "opacity": 1, "color": "#FF0000"},
  "encoding": {"x": {"field": "d", "type": "temporal"}, "y": {"field": "v", "type": "quantitative"}}},
 {"data": {"values": [{}]},
  "mark": {"type": "text", "text": ["Note:", "* = Well contains a pump; as a result,", "values are not representative of aquifer conditions."], "align": "left", "baseline": "top", "font": "Liberation Serif", "fontSize": 30, "lineHeight": 34.5, "color": "#000000"},
  "encoding": {
   "x": {"datum": {"year": 2018, "month": 4, "date": 9, "utc": true}, "type": "temporal"},
   "y": {"datum": -215, "type": "quantitative"}
  }}
]
}
